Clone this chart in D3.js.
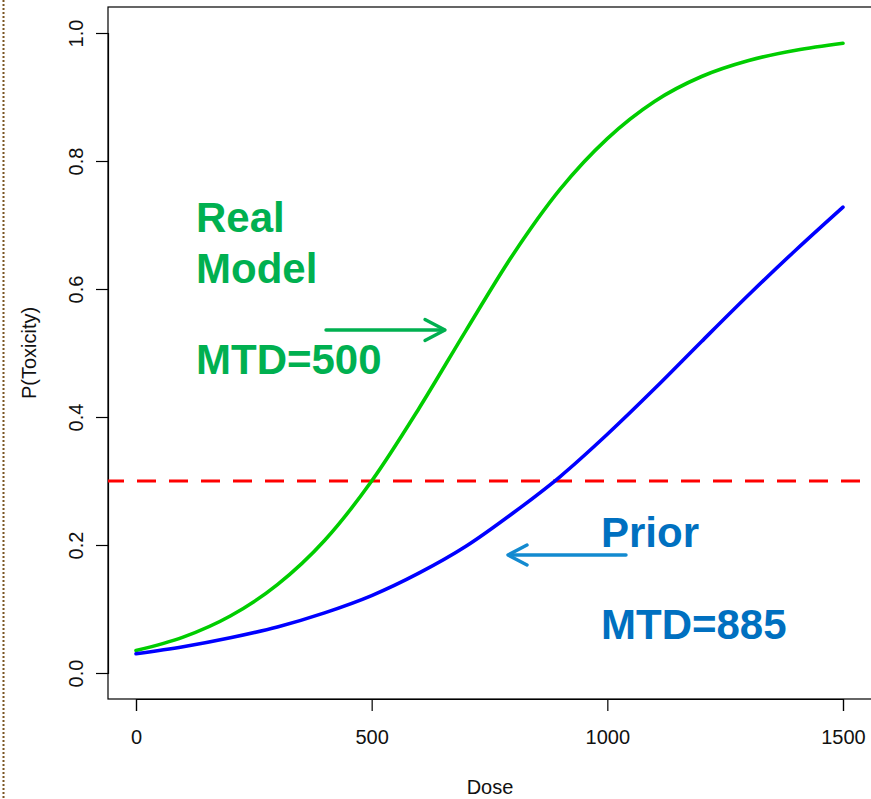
<!DOCTYPE html>
<html>
<head>
<meta charset="utf-8">
<script src="https://cdn.jsdelivr.net/npm/d3@7"></script>
<style>
  html, body { margin: 0; padding: 0; background: #fff; }
  svg { display: block; }
  text { font-family: "Liberation Sans", Arial, sans-serif; }
</style>
</head>
<body>
<svg id="chart" width="871" height="799"></svg>
<script>
// Dose grid shared by both toxicity curves
const doses = [0, 100, 200, 300, 400, 500, 600, 700, 800, 900, 1000, 1100, 1200, 1300, 1400, 1500];
// P(toxicity) under the real model (MTD = 500)
const realModel = [0.035, 0.056, 0.089, 0.138, 0.207, 0.300, 0.413, 0.535, 0.654, 0.756, 0.835, 0.893, 0.932, 0.957, 0.973, 0.984];
// P(toxicity) under the prior (MTD = 885)
const priorModel = [0.030, 0.041, 0.055, 0.072, 0.094, 0.121, 0.156, 0.198, 0.250, 0.307, 0.373, 0.444, 0.518, 0.591, 0.661, 0.728];
// Target toxicity level
const targetTox = 0.3;
const xTicks = [0, 500, 1000, 1500];
const yTicks = [0.0, 0.2, 0.4, 0.6, 0.8, 1.0];

const svg = d3.select("#chart");
const box = { left: 108, right: 872, top: 7, bottom: 699 };

const x = d3.scaleLinear().domain([0, 1500]).range([136, 843]);
const y = d3.scaleLinear().domain([0, 1]).range([673, 33]);

// dotted margin rule on the far left
svg.append("line")
  .attr("x1", 3.5).attr("x2", 3.5).attr("y1", 0).attr("y2", 799)
  .attr("stroke", "#7a5522").attr("stroke-width", 2).attr("stroke-dasharray", "2,2");

// plot frame
svg.append("rect")
  .attr("x", box.left).attr("y", box.top)
  .attr("width", box.right - box.left).attr("height", box.bottom - box.top)
  .attr("fill", "none").attr("stroke", "#000").attr("stroke-width", 1.2);

// x axis
const xAxis = d3.axisBottom(x).tickValues(xTicks).tickSize(12).tickPadding(19)
  .tickFormat(d3.format("d"));
const gx = svg.append("g").attr("transform", `translate(0,${box.bottom})`).call(xAxis);
gx.select(".domain").attr("stroke", "#000").attr("stroke-width", 1.2);
gx.selectAll(".tick line").attr("stroke", "#000").attr("stroke-width", 1.2);
gx.selectAll(".tick text").attr("font-size", 20).attr("fill", "#111")
  .attr("font-family", "Liberation Sans, Arial, sans-serif");

// y axis with rotated labels
const yAxis = d3.axisLeft(y).tickValues(yTicks).tickSize(12).tickFormat(d3.format(".1f"));
const gy = svg.append("g").attr("transform", `translate(${box.left},0)`).call(yAxis);
gy.select(".domain").attr("stroke", "#000").attr("stroke-width", 1.2);
gy.selectAll(".tick line").attr("stroke", "#000").attr("stroke-width", 1.2);
gy.selectAll(".tick text")
  .attr("font-size", 20).attr("fill", "#111")
  .attr("font-family", "Liberation Sans, Arial, sans-serif")
  .attr("x", null).attr("dy", null)
  .attr("text-anchor", "middle")
  .attr("transform", "translate(-25,0) rotate(-90)");

// axis titles
svg.append("text").attr("x", 490).attr("y", 794).attr("text-anchor", "middle")
  .attr("font-size", 20).attr("fill", "#111").text("Dose");
svg.append("text").attr("transform", "translate(36,353) rotate(-90)")
  .attr("text-anchor", "middle").attr("font-size", 20).attr("fill", "#111").text("P(Toxicity)");

// target toxicity reference line
svg.append("line")
  .attr("x1", box.left).attr("x2", box.right)
  .attr("y1", y(targetTox)).attr("y2", y(targetTox))
  .attr("stroke", "#ff0000").attr("stroke-width", 3.2)
  .attr("stroke-dasharray", "19,13").attr("stroke-dashoffset", 3);

// dose-toxicity curves
const line = d3.line().x((d, i) => x(doses[i])).y(d => y(d)).curve(d3.curveMonotoneX);
svg.append("path").datum(realModel).attr("d", line)
  .attr("fill", "none").attr("stroke", "#00cd00").attr("stroke-width", 3.6)
  .attr("stroke-linecap", "round");
svg.append("path").datum(priorModel).attr("d", line)
  .attr("fill", "none").attr("stroke", "#0000ff").attr("stroke-width", 3.6)
  .attr("stroke-linecap", "round");

// annotation arrows
function arrow(x1, yy, x2, color, armX, armY) {
  const dir = Math.sign(x2 - x1);
  const g = svg.append("g").attr("stroke", color).attr("stroke-width", 3.4)
    .attr("stroke-linecap", "round").attr("stroke-linejoin", "round").attr("fill", "none");
  g.append("line").attr("x1", x1).attr("x2", x2 - dir * 1).attr("y1", yy).attr("y2", yy);
  g.append("polyline").attr("points",
    `${x2 - dir * armX},${yy - armY} ${x2},${yy} ${x2 - dir * armX},${yy + armY}`);
}
arrow(326, 330, 445, "#00b050", 20, 10.5);
arrow(626, 555, 508, "#138ad0", 19, 10);

// annotation labels
const green = "#00b050", blue = "#0070c0";
const labels = [
  { t: "Real", x: 196, y: 232, c: green },
  { t: "Model", x: 196, y: 283, c: green },
  { t: "MTD=500", x: 196, y: 374, c: green },
  { t: "Prior", x: 601, y: 547, c: blue },
  { t: "MTD=885", x: 601, y: 639, c: blue }
];
svg.selectAll("text.note").data(labels).enter().append("text")
  .attr("class", "note")
  .attr("x", d => d.x).attr("y", d => d.y)
  .attr("fill", d => d.c).attr("font-size", 42).attr("font-weight", "bold")
  .text(d => d.t);
</script>
</body>
</html>
